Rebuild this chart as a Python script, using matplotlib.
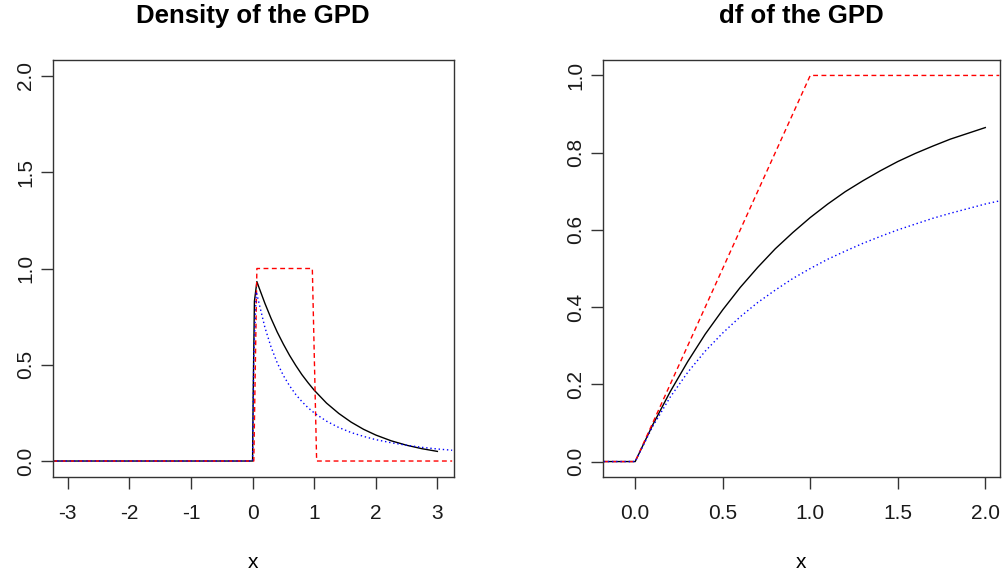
import matplotlib
matplotlib.use("Agg")
import matplotlib.pyplot as plt

plt.rcParams['font.family'] = ['Liberation Sans', 'DejaVu Sans']

# density panel, values
dens_black_x = [-3.24, 0.0, 0.01, 0.03, 0.07, 0.1, 0.2, 0.3, 0.4, 0.5, 0.6, 0.7, 0.8, 0.9, 1.0,
                1.2, 1.4, 1.6, 1.8, 2.0, 2.25, 2.5, 2.75, 3.0]
dens_black_y = [0.0, 0.0, 0.35, 0.83, 0.932, 0.905, 0.819, 0.741, 0.670, 0.607, 0.549, 0.497, 0.449,
                0.407, 0.368, 0.301, 0.247, 0.202, 0.165, 0.135, 0.105, 0.082, 0.064, 0.050]
dens_red_x = [-3.24, 0.02, 0.07, 0.97, 1.04, 3.24]
dens_red_y = [0.0, 0.0, 1.0, 1.0, 0.0, 0.0]
dens_blue_x = [-3.24, 0.0, 0.02, 0.06, 0.1, 0.2, 0.3, 0.4, 0.5, 0.6, 0.7, 0.8, 0.9, 1.0,
               1.2, 1.4, 1.6, 1.8, 2.0, 2.25, 2.5, 2.75, 3.0, 3.24]
dens_blue_y = [0.0, 0.0, 0.55, 0.88, 0.826, 0.694, 0.592, 0.510, 0.444, 0.391, 0.346, 0.309, 0.277,
               0.250, 0.207, 0.174, 0.148, 0.128, 0.111, 0.095, 0.082, 0.071, 0.0625, 0.056]

# distribution function panel
df_black_x = [-0.18, 0.0, 0.1, 0.2, 0.3, 0.4, 0.5, 0.6, 0.7, 0.8, 0.9, 1.0,
              1.1, 1.2, 1.3, 1.4, 1.5, 1.6, 1.7, 1.8, 1.9, 2.0]
df_black_y = [0.0, 0.0, 0.095, 0.181, 0.259, 0.330, 0.393, 0.451, 0.503, 0.551, 0.593, 0.632,
              0.667, 0.699, 0.727, 0.753, 0.777, 0.798, 0.817, 0.835, 0.850, 0.865]
df_red_x = [-0.18, 0.0, 1.0, 2.08]
df_red_y = [0.0, 0.0, 1.0, 1.0]
df_blue_x = [-0.18, 0.0, 0.1, 0.2, 0.3, 0.4, 0.5, 0.6, 0.7, 0.8, 0.9, 1.0,
             1.1, 1.2, 1.3, 1.4, 1.5, 1.6, 1.7, 1.8, 1.9, 2.0, 2.08]
df_blue_y = [0.0, 0.0, 0.091, 0.167, 0.231, 0.286, 0.333, 0.375, 0.412, 0.444, 0.474, 0.500,
             0.524, 0.545, 0.565, 0.583, 0.600, 0.615, 0.630, 0.643, 0.655, 0.667, 0.675]

dens_xticks = [-3, -2, -1, 0, 1, 2, 3]
dens_yticks = [0.0, 0.5, 1.0, 1.5, 2.0]
df_xticks = [0.0, 0.5, 1.0, 1.5, 2.0]
df_yticks = [0.0, 0.2, 0.4, 0.6, 0.8, 1.0]


def style_axes(ax, xticks, yticks, xfmt, yfmt):
    ax.set_xticks(xticks)
    ax.set_xticklabels([xfmt.format(t) for t in xticks])
    ax.set_yticks(yticks)
    ax.set_yticklabels([yfmt.format(t) for t in yticks], rotation=90, va='center')
    ax.tick_params(axis='both', length=8.5, width=1.0, labelsize=15, color='#333333',
                   labelcolor='#1a1a1a')
    ax.tick_params(axis='x', pad=11)
    ax.tick_params(axis='y', pad=4.5)
    for sp in ax.spines.values():
        sp.set_color('#333333')
        sp.set_linewidth(1.0)


fig = plt.figure(figsize=(10.04, 5.78), dpi=100)

ax1 = fig.add_axes([53 / 1004, 1 - 477 / 578, 401 / 1004, 417 / 578])
ax1.plot(dens_black_x, dens_black_y, color='black', lw=1.0)
ax1.plot(dens_red_x, dens_red_y, color='red', lw=1.0, dashes=(3.5, 2.5))
ax1.plot(dens_blue_x, dens_blue_y, color='blue', lw=1.0, dashes=(1, 2))
ax1.set_xlim(-3.24, 3.27)
ax1.set_ylim(-0.083, 2.083)
style_axes(ax1, dens_xticks, dens_yticks, '{:d}', '{:.1f}')

ax2 = fig.add_axes([603 / 1004, 1 - 477 / 578, 397 / 1004, 417 / 578])
ax2.plot(df_black_x, df_black_y, color='black', lw=1.0)
ax2.plot(df_red_x, df_red_y, color='red', lw=1.0, dashes=(3.5, 2.5))
ax2.plot(df_blue_x, df_blue_y, color='blue', lw=1.0, dashes=(1, 2))
ax2.set_xlim(-0.184, 2.084)
ax2.set_ylim(-0.04, 1.04)
style_axes(ax2, df_xticks, df_yticks, '{:.1f}', '{:.1f}')

fig.text(253 / 1004, 1 - 23 / 578, 'Density of the GPD', ha='center', va='baseline',
         fontsize=18.5, fontweight='bold')
fig.text(801 / 1004, 1 - 23 / 578, 'df of the GPD', ha='center', va='baseline',
         fontsize=18.5, fontweight='bold')
fig.text(253 / 1004, 1 - 562 / 578, 'x', ha='center', va='center', fontsize=15)
fig.text(801 / 1004, 1 - 562 / 578, 'x', ha='center', va='center', fontsize=15)

fig.savefig('out.png', dpi=100)
